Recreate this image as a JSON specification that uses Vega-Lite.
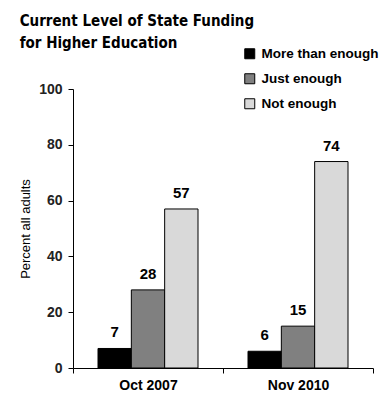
{
  "$schema": "https://vega.github.io/schema/vega-lite/v6.json",
  "width": 300,
  "height": 279,
  "autosize": {"type": "none"},
  "padding": {"left": 73, "top": 89, "right": 14, "bottom": 32},
  "background": "white",
  "title": {
    "text": ["Current Level of State Funding", "for Higher Education"],
    "anchor": "start",
    "dx": 0,
    "offset": -4,
    "font": "DejaVu Sans Condensed, Liberation Sans",
    "fontSize": 15,
    "fontWeight": "bold",
    "color": "black",
    "lineHeight": 22
  },
  "config": {
    "view": {"stroke": null},
    "font": "Liberation Sans"
  },
  "data": {
    "values": [
      {"period": "Oct 2007", "response": "More than enough", "value": 7},
      {"period": "Oct 2007", "response": "Just enough", "value": 28},
      {"period": "Oct 2007", "response": "Not enough", "value": 57},
      {"period": "Nov 2010", "response": "More than enough", "value": 6},
      {"period": "Nov 2010", "response": "Just enough", "value": 15},
      {"period": "Nov 2010", "response": "Not enough", "value": 74}
    ]
  },
  "encoding": {
    "x": {
      "field": "period",
      "type": "nominal",
      "sort": ["Oct 2007", "Nov 2010"],
      "scale": {"paddingInner": 0, "paddingOuter": 0},
      "axis": {
        "title": null,
        "labelAngle": 0,
        "labelFont": "Liberation Sans",
        "labelFontSize": 14,
        "labelFontWeight": "bold",
        "labelColor": "black",
        "labelPadding": 5,
        "domainColor": "black",
        "tickColor": "black",
        "tickBand": "extent",
        "tickSize": 5
      }
    },
    "xOffset": {
      "field": "response",
      "type": "nominal",
      "sort": ["More than enough", "Just enough", "Not enough"],
      "scale": {"paddingInner": 0, "paddingOuter": 0.75}
    },
    "y": {
      "field": "value",
      "type": "quantitative",
      "scale": {"domain": [0, 100]},
      "axis": {
        "title": "Percent all adults",
        "titleFont": "Liberation Sans",
        "titleFontSize": 13,
        "titleFontWeight": "normal",
        "titleColor": "black",
        "titlePadding": 6,
        "values": [0, 20, 40, 60, 80, 100],
        "grid": false,
        "labelFont": "Liberation Sans",
        "labelFontSize": 14,
        "labelFontWeight": "bold",
        "labelColor": "#222",
        "labelPadding": 6,
        "domainColor": "black",
        "tickColor": "black",
        "tickSize": 5
      }
    }
  },
  "layer": [
    {
      "mark": {"type": "bar", "stroke": "black", "strokeWidth": 1},
      "encoding": {
        "fill": {
          "field": "response",
          "type": "nominal",
          "sort": ["More than enough", "Just enough", "Not enough"],
          "scale": {
            "domain": ["More than enough", "Just enough", "Not enough"],
            "range": ["#000000", "#808080", "#d9d9d9"]
          },
          "legend": {
            "title": null,
            "orient": "none",
            "legendX": 170,
            "legendY": -42,
            "symbolType": "square",
            "symbolSize": 100,
            "symbolStrokeColor": "black",
            "symbolStrokeWidth": 1,
            "rowPadding": 10,
            "labelFont": "Liberation Sans",
            "labelFontSize": 13.5,
            "labelFontWeight": "bold",
            "labelColor": "black",
            "labelOffset": 5
          }
        }
      }
    },
    {
      "mark": {"type": "text", "dy": -16, "font": "Liberation Sans", "fontSize": 15, "fontWeight": "bold", "color": "black"},
      "encoding": {
        "text": {"field": "value", "type": "quantitative"}
      }
    }
  ]
}
